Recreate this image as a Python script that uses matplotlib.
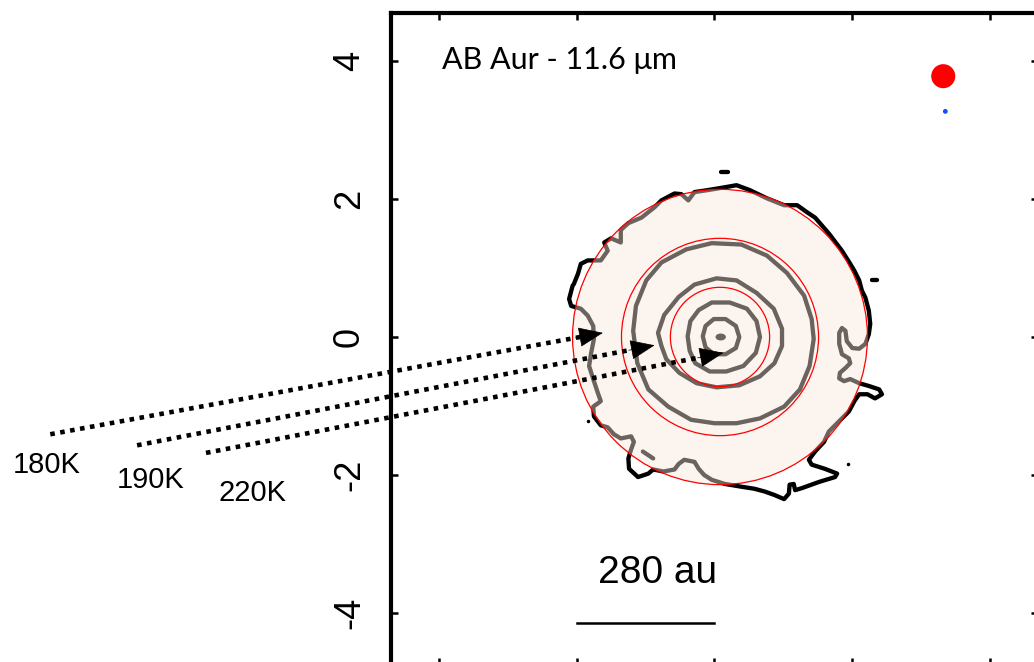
import matplotlib.pyplot as plt
from matplotlib.patches import Circle, Polygon, Ellipse

# tick positions / labels (arcsec)
ticks = [-4, -2, 0, 2, 4]
ytick_labels = ['-4', '-2', '0', '2', '4']

# lowest contour level (black outside the model disk)
outer_x = [-2.04, -1.98, -1.94, -1.84, -1.65, -1.55, -1.60, -1.50, -1.36, -1.36,
           -1.25, -1.06, -0.87, -0.77, -0.58, -0.48, -0.38, -0.29, -0.09, 0.15,
           0.32, 0.51, 0.76, 1.01, 1.20, 1.34, 1.46, 1.66, 1.85, 1.97,
           2.03, 2.10, 2.14, 2.19, 2.24, 2.26, 2.24, 2.19, 2.10, 2.00,
           1.92, 1.90, 1.85, 1.81, 1.81, 1.85, 1.95, 1.97, 1.90, 1.82,
           1.81, 1.88, 1.97, 2.10, 2.24, 2.39, 2.43, 2.33, 2.22, 2.10,
           2.03, 1.95, 1.88, 1.78, 1.66, 1.59, 1.46, 1.37, 1.41, 1.60,
           1.78, 1.75, 1.52, 1.27, 1.17, 1.15, 1.09, 1.08, 1.01, 0.87,
           0.73, 0.58, 0.39, 0.15, -0.04, -0.15, -0.23, -0.29, -0.44, -0.52,
           -0.58, -0.74, -0.89, -0.96, -1.11, -1.24, -1.25, -1.21, -1.17, -1.21,
           -1.36, -1.46, -1.55, -1.65, -1.75, -1.76, -1.65, -1.69, -1.76, -1.82,
           -1.79, -1.75, -1.76, -1.84, -1.94, -2.08, -2.11, -2.06]
outer_y = [0.77, 0.92, 1.06, 1.11, 1.11, 1.25, 1.37, 1.43, 1.37, 1.55,
           1.65, 1.73, 1.88, 1.98, 2.08, 2.07, 1.98, 2.10, 2.13, 2.17,
           2.20, 2.13, 2.01, 1.91, 1.91, 1.81, 1.73, 1.50, 1.25, 1.06,
           0.96, 0.82, 0.67, 0.57, 0.38, 0.19, 0.04, -0.10, -0.17, -0.16,
           -0.06, 0.09, 0.13, 0.06, -0.10, -0.25, -0.31, -0.38, -0.45, -0.52,
           -0.60, -0.64, -0.61, -0.67, -0.71, -0.76, -0.83, -0.89, -0.83, -0.83,
           -0.93, -1.08, -1.15, -1.25, -1.37, -1.52, -1.66, -1.78, -1.85, -1.91,
           -1.98, -2.03, -2.10, -2.19, -2.22, -2.13, -2.14, -2.27, -2.35, -2.29,
           -2.24, -2.20, -2.17, -2.13, -2.07, -2.00, -1.91, -1.81, -1.78, -1.84,
           -1.92, -1.95, -1.92, -1.98, -2.03, -1.91, -1.76, -1.63, -1.52, -1.44,
           -1.47, -1.41, -1.31, -1.28, -1.15, -1.01, -0.93, -0.82, -0.61, -0.42,
           -0.23, -0.03, 0.16, 0.31, 0.41, 0.45, 0.55, 0.74]

# inner contour levels
ring4_x = [-1.18, -1.14, -0.99, -0.77, -0.41, -0.04, 0.39, 0.76, 1.05, 1.30, 1.41,
           1.44, 1.38, 1.24, 1.01, 0.66, 0.32, 0.00, -0.34, -0.67, -0.96, -1.12]
ring4_y = [0.09, 0.45, 0.82, 1.08, 1.27, 1.36, 1.34, 1.18, 0.93, 0.60, 0.26,
           -0.03, -0.42, -0.76, -1.01, -1.18, -1.25, -1.25, -1.20, -1.01, -0.76, -0.38]
ring3_x = [-0.82, -0.73, -0.52, -0.29, 0.03, 0.32, 0.61, 0.86, 0.98,
           0.98, 0.87, 0.66, 0.36, 0.03, -0.26, -0.51, -0.70, -0.77]
ring3_y = [0.06, 0.32, 0.58, 0.76, 0.85, 0.82, 0.64, 0.41, 0.12,
           -0.13, -0.38, -0.57, -0.70, -0.73, -0.67, -0.52, -0.32, -0.13]
ring2_x = [-0.39, -0.35, -0.23, -0.04, 0.22, 0.47, 0.61, 0.66, 0.60, 0.42, 0.17, -0.07, -0.28, -0.36]
ring2_y = [0.01, 0.23, 0.39, 0.50, 0.50, 0.41, 0.23, 0.00, -0.23, -0.42, -0.50, -0.50, -0.38, -0.20]
ring1_x = [-0.17, -0.13, -0.01, 0.16, 0.31, 0.36, 0.31, 0.16, -0.01, -0.13]
ring1_y = [0.01, 0.16, 0.26, 0.26, 0.16, 0.00, -0.16, -0.25, -0.25, -0.15]

# small isolated contour bits
bits_x = [[0.10, 0.20], [2.29, 2.36], [-1.04, -0.89]]
bits_y = [[2.39, 2.39], [0.82, 0.82], [-1.66, -1.76]]
specks_x = [1.94, -1.84]
specks_y = [-1.84, -1.22]
peak = (0.09, 0.0)

# model disk rings
disk_center = (0.08, 0.0)
disk_radii = [0.72, 1.43, 2.14]

# temperature arrows
arrow_labels = ['180K', '190K', '220K']
arrow_start_x = [-9.64, -8.38, -7.38]
arrow_start_y = [-1.41, -1.57, -1.68]
arrow_tip_x = [-1.62, -0.87, 0.13]
arrow_tip_y = [0.06, -0.12, -0.23]
label_x = [-9.69, -8.18, -6.71]
label_y = [-1.85, -2.08, -2.26]

# beam markers
star_pos = (3.32, 3.78)
beam_pos = (3.35, 3.27)

# scale bar (2 arcsec = 280 au)
scalebar_x = [-2.0, 0.0]
scalebar_y = -4.15

plt.rcParams['font.family'] = ['Liberation Sans', 'DejaVu Sans']

fig = plt.figure(figsize=(10.34, 6.62), dpi=100)
ax = fig.add_axes([0.3778, -0.0041, 0.6264, 0.9849])
ax.set_xlim(-4.7, 4.7)
ax.set_ylim(-4.75, 4.7)

contour_kw = dict(fill=False, edgecolor='black', lw=3.1, joinstyle='round', zorder=2)
for cx, cy in [(outer_x, outer_y), (ring4_x, ring4_y), (ring3_x, ring3_y),
               (ring2_x, ring2_y), (ring1_x, ring1_y)]:
    ax.add_patch(Polygon(list(zip(cx, cy)), closed=True, **contour_kw))
for bx, by in zip(bits_x, bits_y):
    ax.plot(bx, by, color='black', lw=3.1, solid_capstyle='round', zorder=2)
ax.plot(specks_x, specks_y, 'o', color='black', ms=1.5, zorder=2)
ax.add_patch(Ellipse(peak, 0.13, 0.08, color='black', zorder=2))

# translucent model disk over the contours
ax.add_patch(Circle(disk_center, disk_radii[-1], facecolor=(0.98, 0.91, 0.86),
                    edgecolor='none', alpha=0.43, zorder=3))
for r in disk_radii:
    ax.add_patch(Circle(disk_center, r, fill=False, edgecolor='red', lw=0.9, zorder=4))

for i in range(3):
    x0, y0 = arrow_start_x[i], arrow_start_y[i]
    x1, y1 = arrow_tip_x[i], arrow_tip_y[i]
    f = 0.97
    ax.plot([x0, x0 + (x1 - x0) * f], [y0, y0 + (y1 - y0) * f], color='black',
            lw=3.3, linestyle=(0, (1, 1.2)), dash_capstyle='butt', clip_on=False, zorder=5)
    ax.annotate('', xy=(x1, y1), xytext=(x0 + (x1 - x0) * 0.95, y0 + (y1 - y0) * 0.95),
                arrowprops=dict(arrowstyle='-|>,head_length=1.6,head_width=0.65',
                                color='black', lw=0.5, shrinkA=0, shrinkB=0),
                annotation_clip=False, zorder=6)
    ax.text(label_x[i], label_y[i], arrow_labels[i], fontsize=21,
            ha='center', va='center', clip_on=False)

ax.scatter([star_pos[0]], [star_pos[1]], s=300, color='red', edgecolors='none', zorder=5)
ax.scatter([beam_pos[0]], [beam_pos[1]], s=12, color='#1a4cff', edgecolors='none', zorder=5)

ax.text(-3.95, 4.01, 'AB Aur - 11.6 \u03bcm', fontsize=22, ha='left', va='center',
        family=['Lato', 'DejaVu Sans'])
ax.text(-0.83, -3.42, '280 au', fontsize=28, ha='center', va='center')
ax.plot(scalebar_x, [scalebar_y, scalebar_y], color='black', lw=1.8)

ax.set_xticks(ticks)
ax.set_yticks(ticks)
ax.set_yticklabels(ytick_labels, rotation=90, va='center', fontsize=26)
ax.tick_params(direction='in', length=5, width=1.8, top=True, right=True,
               labelbottom=False, pad=17)
for s in ax.spines.values():
    s.set_linewidth(3)

fig.savefig('out.png', dpi=100)
